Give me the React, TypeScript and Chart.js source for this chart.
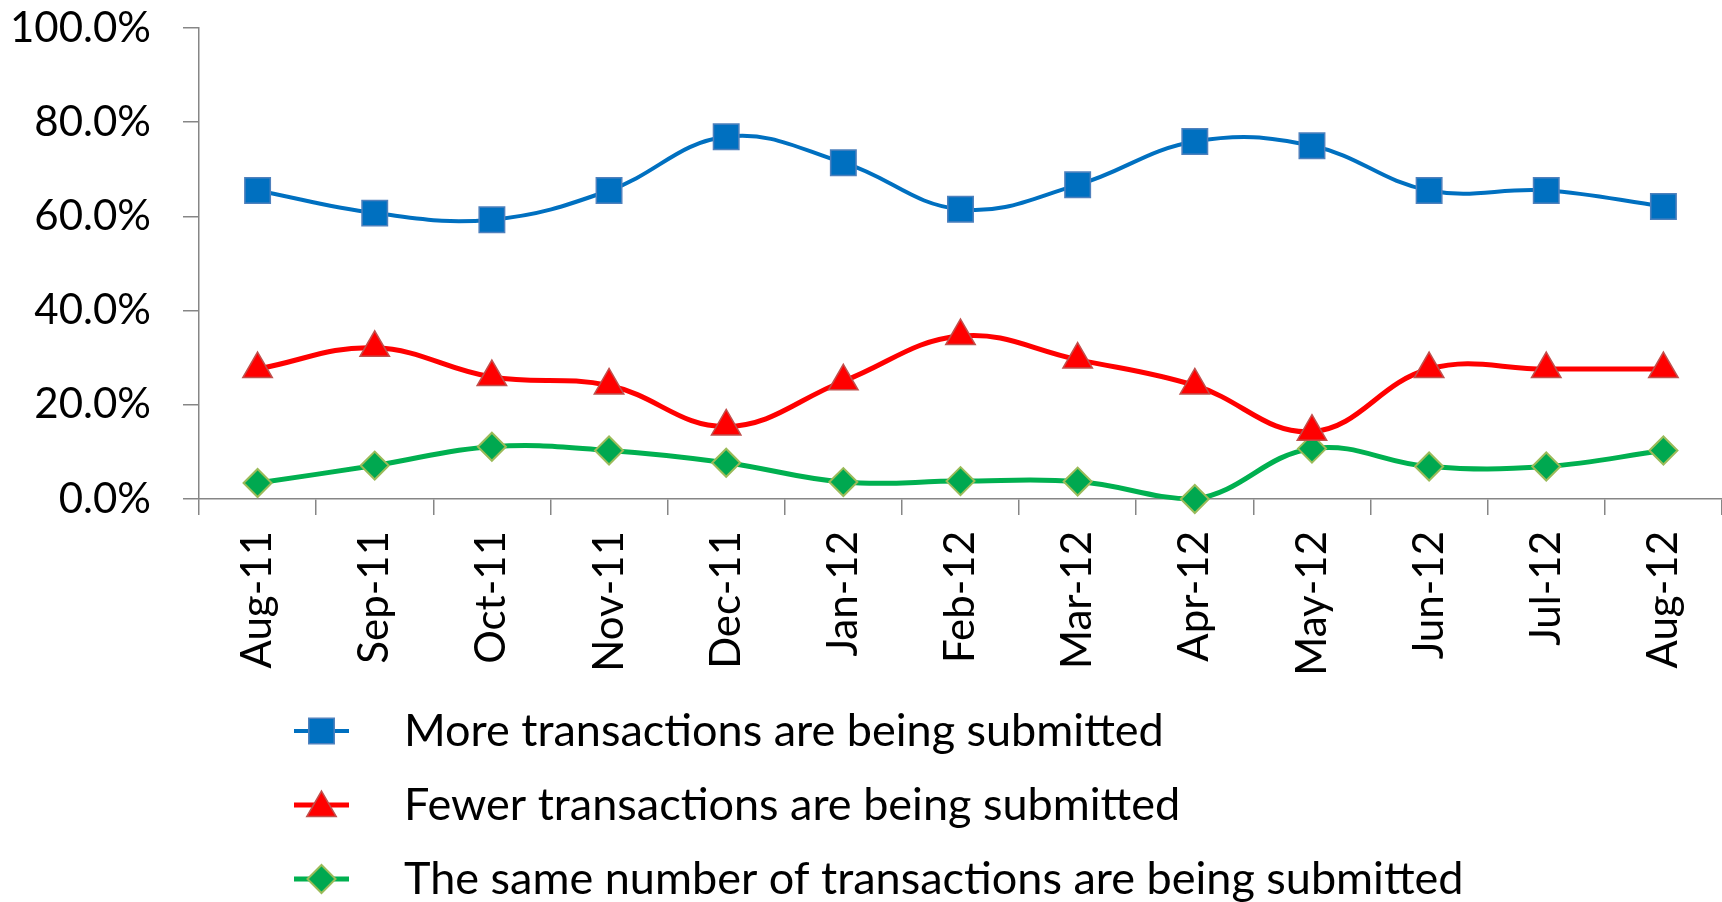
import React, { useEffect, useRef } from "react";
import { Chart, registerables } from "chart.js";

Chart.register(...registerables);

// ---- Data ----
const months = ["Aug-11", "Sep-11", "Oct-11", "Nov-11", "Dec-11", "Jan-12", "Feb-12", "Mar-12", "Apr-12", "May-12", "Jun-12", "Jul-12", "Aug-12"];
const moreSubmitted = [65.5, 60.7, 59.3, 65.5, 76.9, 71.4, 61.5, 66.7, 75.9, 75.0, 65.5, 65.5, 62.1];
const fewerSubmitted = [27.6, 32.1, 25.9, 24.1, 15.4, 25.0, 34.6, 29.6, 24.1, 14.3, 27.6, 27.6, 27.6];
const sameSubmitted = [3.4, 7.1, 11.1, 10.3, 7.7, 3.6, 3.8, 3.7, 0.0, 10.7, 6.9, 6.9, 10.3];
const seriesNames = [
  "More transactions are being submitted",
  "Fewer transactions are being submitted",
  "The same number of transactions are being submitted",
];
const yMin = 0;
const yMax = 100;
const yStep = 20;

const FONT = "Lato, 'Open Sans', sans-serif";
const W = 1722;
const H = 902;

function markerPath(ctx: CanvasRenderingContext2D, style: string, x: number, y: number, r: number) {
  ctx.beginPath();
  if (style === "rect") {
    const s = Math.SQRT1_2 * r;
    ctx.rect(x - s, y - s, 2 * s, 2 * s);
  } else if (style === "triangle") {
    for (let i = 0; i < 3; i++) {
      const a = (i * 2 * Math.PI) / 3;
      const px = x + Math.sin(a) * r;
      const py = y - Math.cos(a) * r;
      if (i === 0) ctx.moveTo(px, py);
      else ctx.lineTo(px, py);
    }
  } else {
    ctx.moveTo(x - r, y);
    ctx.lineTo(x, y - r);
    ctx.lineTo(x + r, y);
    ctx.lineTo(x, y + r);
  }
  ctx.closePath();
}

const legendPlugin = {
  id: "stackedLegend",
  afterDraw(chart: any) {
    const ctx: CanvasRenderingContext2D = chart.ctx;
    const datasets = chart.data.datasets;
    const firstRowY = 731;
    const rowGap = 74;
    const lineX0 = 294;
    const lineX1 = 349;
    const textX = 404;
    ctx.save();
    datasets.forEach((ds: any, i: number) => {
      const y = firstRowY + i * rowGap;
      ctx.strokeStyle = ds.borderColor;
      ctx.lineWidth = ds.borderWidth;
      ctx.beginPath();
      ctx.moveTo(lineX0, y);
      ctx.lineTo(lineX1, y);
      ctx.stroke();
      const cx = (lineX0 + lineX1) / 2;
      markerPath(ctx, ds.pointStyle, cx, ds.pointStyle === "triangle" ? y + 3 : y, ds.pointRadius);
      ctx.fillStyle = ds.pointBackgroundColor;
      ctx.fill();
      ctx.lineWidth = ds.pointBorderWidth;
      ctx.strokeStyle = ds.pointBorderColor;
      ctx.stroke();
      ctx.fillStyle = "#000";
      ctx.font = `45px ${FONT}`;
      ctx.textAlign = "left";
      ctx.textBaseline = "middle";
      ctx.fillText(ds.label, textX, y);
    });
    ctx.restore();
  },
};

export default function App() {
  const canvasRef = useRef<HTMLCanvasElement | null>(null);

  useEffect(() => {
    document.body.style.margin = "0";
    document.body.style.overflow = "hidden";
    const canvas = canvasRef.current;
    if (!canvas) return;
    const chart = new Chart(canvas, {
      type: "line",
      data: {
        labels: months,
        datasets: [
          {
            label: seriesNames[0],
            data: moreSubmitted,
            borderColor: "#0070C0",
            borderWidth: 4,
            pointStyle: "rect",
            pointRadius: 18,
            pointBackgroundColor: "#0070C0",
            pointBorderColor: "#4F81BD",
            pointBorderWidth: 1.5,
            tension: 0.4,
            clip: false,
          } as any,
          {
            label: seriesNames[1],
            data: fewerSubmitted,
            borderColor: "#FF0000",
            borderWidth: 5,
            pointStyle: "triangle",
            pointRadius: 17,
            pointBackgroundColor: "#FF0000",
            pointBorderColor: "#C0504D",
            pointBorderWidth: 1.5,
            tension: 0.4,
            clip: false,
          } as any,
          {
            label: seriesNames[2],
            data: sameSubmitted,
            borderColor: "#00B050",
            borderWidth: 5,
            pointStyle: "rectRot",
            pointRadius: 14,
            pointBackgroundColor: "#00A850",
            pointBorderColor: "#9BBB59",
            pointBorderWidth: 2,
            tension: 0.4,
            clip: false,
          } as any,
        ],
      },
      options: {
        responsive: false,
        animation: false,
        events: [],
        layout: { autoPadding: false, padding: { top: 28, right: 0, bottom: 230, left: 0 } },
        plugins: {
          legend: { display: false },
          tooltip: { enabled: false },
        },
        scales: {
          x: {
            type: "category",
            offset: true,
            grid: {
              offset: true,
              drawOnChartArea: false,
              drawTicks: true,
              tickLength: 16,
              color: "#868686",
              lineWidth: 1.5,
            },
            border: { display: true, color: "#868686", width: 1.5 },
            ticks: {
              color: "#000",
              font: { family: FONT, size: 42 },
              minRotation: 90,
              maxRotation: 90,
              padding: 16,
              autoSkip: false,
            },
            afterFit: (scale: any) => {
              scale.height = H - 28 - 230 - 471;
              scale.paddingLeft = 0;
              scale.paddingRight = 0;
            },
          },
          y: {
            min: yMin,
            max: yMax,
            ticks: {
              stepSize: yStep,
              color: "#000",
              font: { family: FONT, size: 42 },
              padding: 32,
              callback: (v: any) => Number(v).toFixed(1) + "%",
            },
            grid: {
              drawOnChartArea: false,
              drawTicks: true,
              tickLength: 16,
              color: "#868686",
              lineWidth: 1.5,
            },
            border: { display: true, color: "#868686", width: 1.5 },
            afterFit: (scale: any) => {
              scale.width = 199;
              scale.paddingTop = 0;
              scale.paddingBottom = 0;
            },
          },
        },
      },
      plugins: [legendPlugin],
    });
    return () => chart.destroy();
  }, []);

  return (
    <div style={{ width: W, height: H, position: "relative", background: "#fff" }}>
      <canvas ref={canvasRef} width={W} height={H} style={{ display: "block" }} />
    </div>
  );
}
